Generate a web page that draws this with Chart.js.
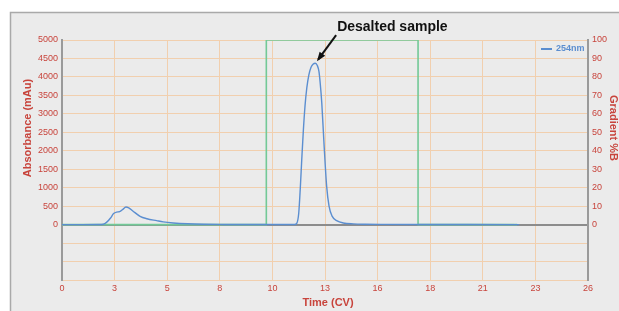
<!DOCTYPE html>
<html lang="en">
<head>
  <meta charset="UTF-8">
  <title>Desalting run</title>
  <script src="https://cdn.jsdelivr.net/npm/chart.js"></script>
  <style>
    html, body { margin: 0; padding: 0; background: #fff; }
    #wrap { width: 619px; height: 311px; position: relative; }
  </style>
</head>
<body>
  <div id="wrap"><canvas id="chart" width="619" height="311"></canvas></div>
  <script>
    // Absorbance trace at 254nm (Time in CV, mAu)
    const uvTime = [0, 1, 1.8, 2.04, 2.2, 2.4, 2.55, 2.7, 2.85, 3.0, 3.16, 3.3, 3.5, 3.86, 4.2, 4.68, 5.0, 5.5, 6.2, 7, 8, 9, 10, 11, 11.5, 11.6, 11.7, 11.78, 11.85, 11.93, 12.01, 12.1, 12.2, 12.3, 12.42, 12.52, 12.62, 12.7, 12.76, 12.84, 12.95, 13.08, 13.2, 13.35, 13.6, 13.9, 14.4, 15, 16, 18, 20, 22.6];
    const uvValue = [0, 0, 2, 10, 60, 180, 300, 340, 350, 410, 478, 455, 370, 225, 160, 108, 75, 45, 22, 10, 5, 3, 2, 2, 4, 30, 300, 1000, 1750, 2550, 3200, 3700, 4050, 4250, 4350, 4370, 4310, 4150, 3850, 3300, 2200, 1050, 500, 230, 100, 45, 20, 10, 6, 3, 2, 0];

    // Gradient %B
    const gradTime = [0, 10.1, 10.1, 17.6, 17.6, 22.5];
    const gradValue = [0, 0, 100, 100, 0, 0];

    const xTicks = [0, 3, 5, 8, 10, 13, 16, 18, 21, 23, 26];

    const red = "#c8443c";
    const gridOrange = "#f1cfae";
    const font = "'Liberation Sans', Arial, sans-serif";

    const toPoints = (xs, ys) => xs.map((x, i) => ({ x: x, y: ys[i] }));

    // panel background + axis titles + annotation + legend
    const decor = {
      id: "decor",
      beforeDraw(chart) {
        const c = chart.ctx;
        c.save();
        c.fillStyle = "#ebebeb";
        c.fillRect(10, 12, 609, 299);
        c.strokeStyle = "#a9a9a9";
        c.lineWidth = 1.5;
        c.beginPath();
        c.moveTo(10.5, 311);
        c.lineTo(10.5, 12.5);
        c.lineTo(619, 12.5);
        c.stroke();
        c.restore();
      },
      afterDraw(chart) {
        const c = chart.ctx;
        const xs = chart.scales.x, ys = chart.scales.y;
        c.save();
        c.fillStyle = red;
        c.font = "bold 11px " + font;
        c.textAlign = "center";
        c.textBaseline = "middle";
        // left title
        c.save();
        c.translate(28, 128);
        c.rotate(-Math.PI / 2);
        c.fillText("Absorbance (mAu)", 0, 0);
        c.restore();
        // right title
        c.save();
        c.translate(613, 128);
        c.rotate(Math.PI / 2);
        c.fillText("Gradient %B", 0, 0);
        c.restore();
        // x title
        c.fillText("Time (CV)", 328, 303);

        // annotation
        const tipX = xs.getPixelForValue(12.66), tipY = ys.getPixelForValue(4470);
        const tailX = xs.getPixelForValue(13.55), tailY = ys.getPixelForValue(5130);
        c.strokeStyle = "#111";
        c.fillStyle = "#111";
        c.lineWidth = 2;
        c.beginPath();
        c.moveTo(tailX, tailY);
        c.lineTo(tipX, tipY);
        c.stroke();
        const ang = Math.atan2(tipY - tailY, tipX - tailX);
        c.beginPath();
        c.moveTo(tipX + 2 * Math.cos(ang), tipY + 2 * Math.sin(ang));
        c.lineTo(tipX - 8 * Math.cos(ang - 0.45), tipY - 8 * Math.sin(ang - 0.45));
        c.lineTo(tipX - 8 * Math.cos(ang + 0.45), tipY - 8 * Math.sin(ang + 0.45));
        c.closePath();
        c.fill();
        c.font = "bold 14px " + font;
        c.textAlign = "left";
        c.fillText("Desalted sample", tailX + 1, 27);

        // legend
        const ds = chart.data.datasets[0];
        c.strokeStyle = ds.borderColor;
        c.lineWidth = 2;
        c.beginPath();
        c.moveTo(541, 49);
        c.lineTo(552, 49);
        c.stroke();
        c.fillStyle = ds.borderColor;
        c.font = "bold 9px " + font;
        c.textAlign = "left";
        c.fillText(ds.label, 556, 49);
        c.restore();
      }
    };

    new Chart(document.getElementById("chart"), {
      type: "line",
      data: {
        datasets: [
          {
            label: "254nm",
            data: toPoints(uvTime, uvValue),
            borderColor: "#5b8ed0",
            borderWidth: 1.4,
            pointRadius: 0,
            cubicInterpolationMode: "monotone",
            yAxisID: "y",
            order: 1
          },
          {
            label: "Gradient %B",
            data: toPoints(gradTime, gradValue),
            borderColor: "#72c997",
            borderWidth: 1.6,
            pointRadius: 0,
            tension: 0,
            yAxisID: "y1",
            order: 2
          }
        ]
      },
      options: {
        responsive: false,
        animation: false,
        layout: { padding: { top: 40, left: 0, right: 0, bottom: 0 } },
        plugins: { legend: { display: false }, tooltip: { enabled: false } },
        scales: {
          x: {
            type: "linear",
            min: 0,
            max: 26,
            afterBuildTicks: s => { s.ticks = xTicks.map((t, i) => ({ value: i * 2.6 })); },
            ticks: {
              color: red,
              font: { size: 9, family: font },
              padding: 3,
              maxRotation: 0,
              autoSkip: false,
              callback: (v, i) => String(xTicks[i])
            },
            grid: { color: gridOrange, lineWidth: 1, drawTicks: false },
            border: { display: false },
            afterFit: s => { s.height = 31; }
          },
          y: {
            position: "left",
            min: -1500,
            max: 5000,
            ticks: {
              stepSize: 500,
              color: red,
              font: { size: 9, family: font },
              padding: 4,
              callback: v => (v >= 0 ? v : "")
            },
            grid: {
              color: c => (c.tick && c.tick.value === 0 ? "#8c8c8c" : gridOrange),
              lineWidth: c => (c.tick && c.tick.value === 0 ? 2 : 1),
              drawTicks: false
            },
            border: { display: true, color: "#9a9a9a", width: 2 },
            afterFit: s => { s.width = 62; }
          },
          y1: {
            position: "right",
            min: -30,
            max: 100,
            ticks: {
              stepSize: 10,
              color: red,
              font: { size: 9, family: font },
              padding: 4,
              callback: v => (v >= 0 ? v : "")
            },
            grid: { drawOnChartArea: false, drawTicks: false },
            border: { display: true, color: "#9a9a9a", width: 2 },
            afterFit: s => { s.width = 31; }
          }
        }
      },
      plugins: [decor]
    });
  </script>
</body>
</html>
